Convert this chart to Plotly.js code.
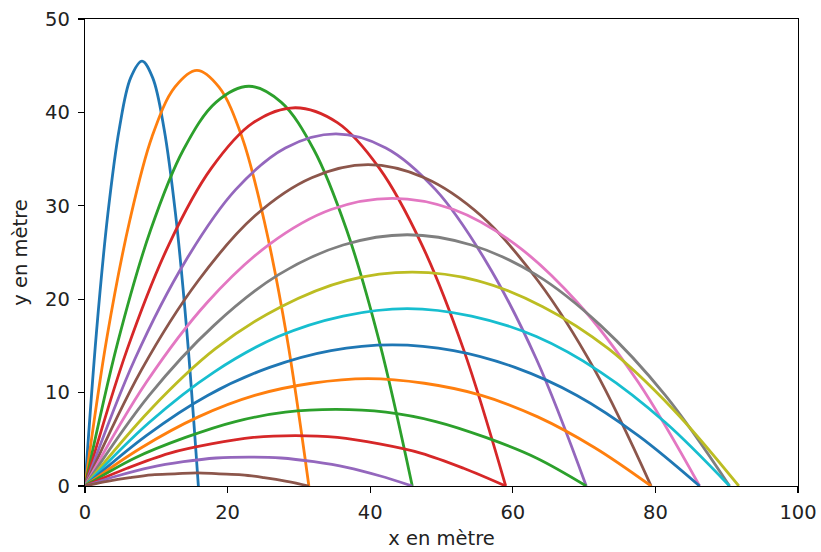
<!DOCTYPE html>
<html>
<head>
<meta charset="utf-8">
<script src="https://cdn.plot.ly/plotly-3.0.1.min.js"></script>
<style>html,body{margin:0;padding:0;background:#fff;}#chart{width:821px;height:552px;}</style>
</head>
<body>
<div id="chart"></div>
<script>
// Trajectories (angle in degrees -> x, y in metres)
const angles = [85, 80, 75, 70, 65, 60, 55, 50, 45, 40, 35, 30, 25, 20, 15, 10];

const x85 = [0, 1.6, 3.2, 4.8, 6.4, 8.0, 9.5, 11.1, 12.7, 14.3, 15.9];
const y85 = [0, 16.4, 29.1, 38.2, 43.7, 45.5, 43.7, 38.2, 29.1, 16.4, 0];
const x80 = [0, 3.1, 6.3, 9.4, 12.6, 15.7, 18.8, 22.0, 25.1, 28.3, 31.4];
const y80 = [0, 16.0, 28.5, 37.4, 42.7, 44.5, 42.7, 37.4, 28.5, 16.0, 0];
const x75 = [0, 4.6, 9.2, 13.8, 18.4, 23.0, 27.5, 32.1, 36.7, 41.3, 45.9];
const y75 = [0, 15.4, 27.4, 36.0, 41.1, 42.8, 41.1, 36.0, 27.4, 15.4, 0];
const x70 = [0, 5.9, 11.8, 17.7, 23.6, 29.5, 35.4, 41.3, 47.2, 53.1, 59.0];
const y70 = [0, 14.6, 25.9, 34.0, 38.9, 40.5, 38.9, 34.0, 25.9, 14.6, 0];
const x65 = [0, 7.0, 14.1, 21.1, 28.1, 35.2, 42.2, 49.2, 56.2, 63.3, 70.3];
const y65 = [0, 13.6, 24.1, 31.7, 36.2, 37.7, 36.2, 31.7, 24.1, 13.6, 0];
const x60 = [0, 7.9, 15.9, 23.8, 31.8, 39.7, 47.6, 55.6, 63.5, 71.5, 79.4];
const y60 = [0, 12.4, 22.0, 28.9, 33.0, 34.4, 33.0, 28.9, 22.0, 12.4, 0];
const x55 = [0, 8.6, 17.2, 25.9, 34.5, 43.1, 51.7, 60.3, 69.0, 77.6, 86.2];
const y55 = [0, 11.1, 19.7, 25.9, 29.6, 30.8, 29.6, 25.9, 19.7, 11.1, 0];
const x50 = [0, 9.0, 18.1, 27.1, 36.2, 45.2, 54.2, 63.3, 72.3, 81.4, 90.4];
const y50 = [0, 9.7, 17.2, 22.6, 25.8, 26.9, 25.8, 22.6, 17.2, 9.7, 0];
const x45 = [0, 9.2, 18.3, 27.5, 36.7, 45.9, 55.0, 64.2, 73.4, 82.5, 91.7];
const y45 = [0, 8.2, 14.7, 19.2, 22.0, 22.9, 22.0, 19.2, 14.7, 8.2, 0];
const x40 = [0, 9.0, 18.1, 27.1, 36.2, 45.2, 54.2, 63.3, 72.3, 81.4, 90.4];
const y40 = [0, 6.8, 12.2, 16.0, 18.2, 19.0, 18.2, 16.0, 12.2, 6.8, 0];
const x35 = [0, 8.6, 17.2, 25.9, 34.5, 43.1, 51.7, 60.3, 69.0, 77.6, 86.2];
const y35 = [0, 5.4, 9.7, 12.7, 14.5, 15.1, 14.5, 12.7, 9.7, 5.4, 0];
const x30 = [0, 7.9, 15.9, 23.8, 31.8, 39.7, 47.6, 55.6, 63.5, 71.5, 79.4];
const y30 = [0, 4.1, 7.4, 9.7, 11.0, 11.5, 11.0, 9.7, 7.4, 4.1, 0];
const x25 = [0, 7.0, 14.1, 21.1, 28.1, 35.2, 42.2, 49.2, 56.2, 63.3, 70.3];
const y25 = [0, 3.0, 5.2, 6.9, 7.9, 8.2, 7.9, 6.9, 5.2, 3.0, 0];
const x20 = [0, 5.9, 11.8, 17.7, 23.6, 29.5, 35.4, 41.3, 47.2, 53.1, 59.0];
const y20 = [0, 1.9, 3.5, 4.5, 5.2, 5.4, 5.2, 4.5, 3.5, 1.9, 0];
const x15 = [0, 4.6, 9.2, 13.8, 18.4, 23.0, 27.5, 32.1, 36.7, 41.3, 45.9];
const y15 = [0, 1.1, 2.0, 2.6, 3.0, 3.1, 3.0, 2.6, 2.0, 1.1, 0];
const x10 = [0, 3.1, 6.3, 9.4, 12.6, 15.7, 18.8, 22.0, 25.1, 28.3, 31.4];
const y10 = [0, 0.5, 0.9, 1.2, 1.3, 1.4, 1.3, 1.2, 0.9, 0.5, 0];

const xSeries = [x85, x80, x75, x70, x65, x60, x55, x50, x45, x40, x35, x30, x25, x20, x15, x10];
const ySeries = [y85, y80, y75, y70, y65, y60, y55, y50, y45, y40, y35, y30, y25, y20, y15, y10];

const xTicks = [0, 20, 40, 60, 80, 100];
const yTicks = [0, 10, 20, 30, 40, 50];

const palette = ['#1f77b4', '#ff7f0e', '#2ca02c', '#d62728', '#9467bd',
                 '#8c564b', '#e377c2', '#7f7f7f', '#bcbd22', '#17becf'];

const traces = angles.map((a, i) => ({
  x: xSeries[i], y: ySeries[i], type: 'scatter', mode: 'lines',
  name: a + '°',
  line: {color: palette[i % palette.length], width: 2.8, shape: 'spline', smoothing: 1},
  hoverinfo: 'skip'
}));

const fontFam = 'DejaVu Sans, sans-serif';
const axisCommon = {
  showgrid: false, zeroline: false, showline: true, mirror: true,
  linecolor: '#000', linewidth: 1.3, ticks: 'outside', ticklen: 6, tickwidth: 1.3,
  tickcolor: '#000', tickfont: {family: fontFam, size: 19.5, color: '#222'},
  fixedrange: true
};

const layout = {
  width: 821, height: 552,
  margin: {l: 85, r: 23, t: 19, b: 66},
  paper_bgcolor: '#fff', plot_bgcolor: '#fff',
  showlegend: false,
  xaxis: Object.assign({}, axisCommon, {
    range: [0, 100], tickvals: xTicks, ticktext: xTicks.map(String),
    ticklabelstandoff: 2,
    title: {text: 'x en mètre', font: {family: fontFam, size: 19.5, color: '#222'}, standoff: 8}
  }),
  yaxis: Object.assign({}, axisCommon, {
    range: [0, 50], tickvals: yTicks, ticktext: yTicks.map(String),
    ticklabelstandoff: 4,
    title: {text: 'y en mètre', font: {family: fontFam, size: 19.5, color: '#222'}, standoff: 12}
  })
};

Plotly.newPlot('chart', traces, layout, {displayModeBar: false, staticPlot: true});
</script>
</body>
</html>
